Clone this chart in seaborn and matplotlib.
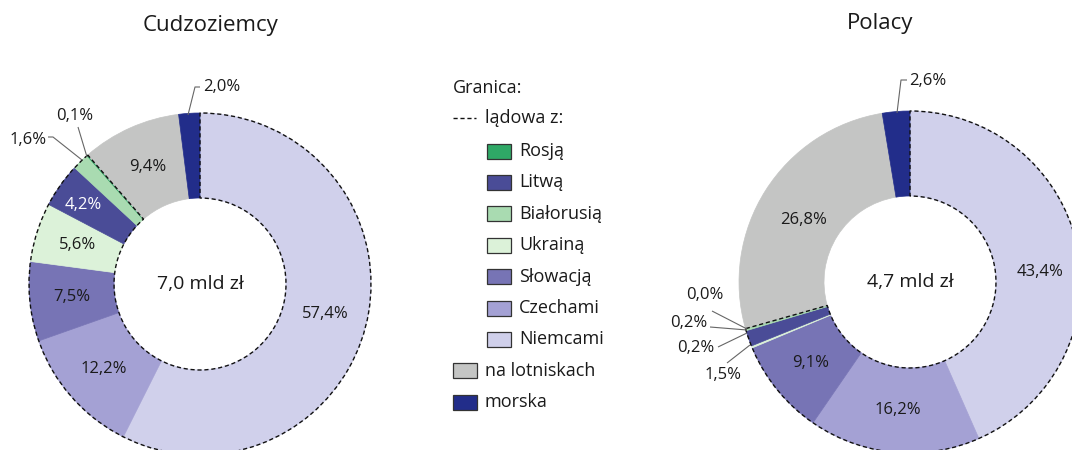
import matplotlib
matplotlib.use("Agg")
import matplotlib.pyplot as plt
from matplotlib.patches import Wedge, Rectangle
import numpy as np
import seaborn as sns

# ---------------- data ----------------
categories = ["Niemcami", "Czechami", "Słowacją", "Ukrainą", "Litwą",
              "Białorusią", "Rosją", "na lotniskach", "morska"]
land_categories = ["Niemcami", "Czechami", "Słowacją", "Ukrainą", "Litwą",
                   "Białorusią", "Rosją"]
foreigners = [57.4, 12.2, 7.5, 5.6, 4.2, 1.6, 0.1, 9.4, 2.0]
poles = [43.4, 16.2, 9.1, 0.2, 1.5, 0.2, 0.0, 26.8, 2.6]
titles = ["Cudzoziemcy", "Polacy"]
totals = ["7,0 mld zł", "4,7 mld zł"]
legend_title = "Granica:"
legend_land = "lądowa z:"
legend_order = ["Rosją", "Litwą", "Białorusią", "Ukrainą", "Słowacją",
                "Czechami", "Niemcami", "na lotniskach", "morska"]
colors = {
    "Niemcami": "#D0D0EB",
    "Czechami": "#A4A1D4",
    "Słowacją": "#7774B5",
    "Ukrainą": "#DCF2D9",
    "Litwą": "#4A4C97",
    "Białorusią": "#A9DBB1",
    "Rosją": "#2FA866",
    "na lotniskach": "#C4C5C4",
    "morska": "#222D8A",
}

# ---------------- style ----------------
sns.set_theme(style="white")
plt.rcParams['font.family'] = ['Open Sans', 'DejaVu Sans']
TXT = "#1a1a1a"

W, H = 1072, 450
fig = plt.figure(figsize=(W / 100, H / 100), dpi=100)
ax = fig.add_axes([0, 0, 1, 1])


def P(x, y):
    return (x, H - y)


R_OUT, R_IN = 171, 86
R_MID = (R_OUT + R_IN) / 2
centers = [(200, 284), (910, 282)]
title_pos = [(211, 25), (880, 24)]

# per-chart label tweaks (pixel offsets) and outside labels
inside_offsets = [{"Litwą": (-12, -5)},
                  {"Niemcami": (4, 16), "na lotniskach": (2, 7)}]
outside = [
    {"morska": dict(text=(203, 87), ha="left", line=[(188, 115), (195, 87), (200, 87)]),
     "Białorusią": dict(text=(28, 140), ha="center", line=[(48, 137), (53, 137), (82, 160)]),
     "Rosją": dict(text=(75, 116), ha="center", line=[(78, 127), (87, 157)])},
    {"morska": dict(text=(909, 81), ha="left", line=[(897, 113), (901, 80), (907, 80)]),
     "Rosją": dict(text=(705, 295), ha="center", line=[(712, 311), (747, 329)]),
     "Białorusią": dict(text=(689, 323), ha="center", line=[(710, 327), (747, 330)]),
     "Ukrainą": dict(text=(696, 348), ha="center", line=[(718, 347), (747, 333)]),
     "Litwą": dict(text=(723, 375), ha="center", line=[(727, 363), (750, 345)])},
]


def fmt(v):
    return f"{v:.1f}".replace(".", ",") + "%"


for k, vals in enumerate([foreigners, poles]):
    cx, cy = P(*centers[k])
    wedges, _ = ax.pie(vals, colors=[colors[c] for c in categories], startangle=90,
                       counterclock=False, radius=R_OUT, center=(cx, cy),
                       wedgeprops=dict(width=R_OUT - R_IN, linewidth=0.5),
                       normalize=True)
    for w in wedges:
        w.set_edgecolor(w.get_facecolor())
    # dashed outline around land borders
    land_share = sum(v for c, v in zip(categories, vals) if c in land_categories)
    ax.add_patch(Wedge((cx, cy), R_OUT, 90 - land_share * 3.6, 90,
                       width=R_OUT - R_IN, fill=False, edgecolor="#111111",
                       linestyle=(0, (3, 2)), linewidth=1.0, zorder=5))
    # labels
    cum = 0.0
    for c, v in zip(categories, vals):
        mid = np.deg2rad(90 - (cum + v / 2) * 3.6)
        cum += v
        if c in outside[k]:
            o = outside[k][c]
            pts = [P(*p) for p in o["line"]]
            ax.plot([p[0] for p in pts], [p[1] for p in pts], color="#666666",
                    lw=0.8, zorder=6, solid_capstyle="butt")
            tx, ty = P(*o["text"])
            ax.text(tx, ty, fmt(v), ha=o["ha"], va="center", fontsize=12,
                    color=TXT)
            continue
        dx, dy = inside_offsets[k].get(c, (0, 0))
        x = cx + R_MID * np.cos(mid) + dx
        y = cy + R_MID * np.sin(mid) - dy
        ax.text(x, y, fmt(v), ha="center", va="center", fontsize=12,
                color="white" if c == "Litwą" else TXT, zorder=7)
    ax.text(cx, cy, totals[k], ha="center", va="center", fontsize=14, color=TXT)
    tx, ty = P(*title_pos[k])
    ax.text(tx, ty, titles[k], ha="center", va="center", fontsize=16, color=TXT)

# ---------------- legend ----------------
ax.text(*P(453, 88), legend_title, ha="left", va="center", fontsize=13, color=TXT)
ax.plot([453, 476], [H - 118, H - 118], color="#111111", lw=1.0,
        linestyle=(0, (3, 2)))
ax.text(*P(485, 118), legend_land, ha="left", va="center", fontsize=13, color=TXT)
for i, c in enumerate(legend_order):
    yc = 151 + i * 31.4
    indent = c in land_categories
    px = 487 if indent else 453
    ax.add_patch(Rectangle(P(px, yc + 7.5), 24, 15, facecolor=colors[c],
                           edgecolor="#333333", linewidth=0.9))
    ax.text(*P(px + 32, yc), c, ha="left", va="center", fontsize=13, color=TXT)

ax.set_xlim(0, W)
ax.set_ylim(0, H)
ax.set_aspect("equal")
ax.set_axis_off()
fig.savefig("out.png", dpi=100, facecolor="white")
